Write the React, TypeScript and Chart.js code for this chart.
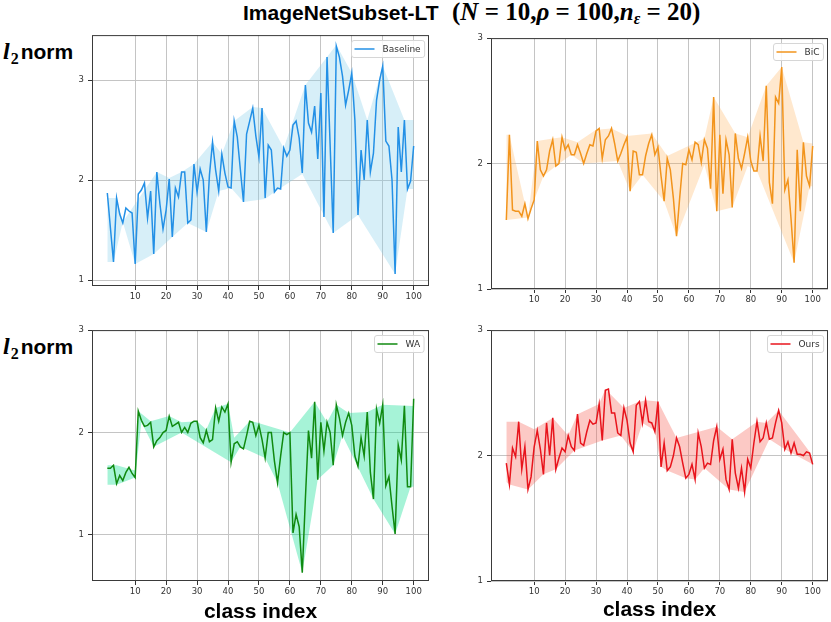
import { useEffect, useRef } from "react";
import Chart from "chart.js/auto";

Chart.defaults.font.family = '"DejaVu Sans", sans-serif';

const classIndex = Array.from({ length: 100 }, (_, i) => i + 1);
const xTicks = [10, 20, 30, 40, 50, 60, 70, 80, 90, 100];
const yTicks = [1, 2, 3];

const baseline = [
  1.87, 1.52, 1.18, 1.82, 1.66, 1.57, 1.72, 1.69, 1.67, 1.16,
  1.86, 1.9, 1.97, 1.62, 1.89, 1.26, 2.08, 1.76, 1.51, 1.7,
  2.01, 1.43, 1.92, 1.83, 2.08, 2.08, 1.57, 1.6, 2.16, 1.88,
  2.11, 2.0, 1.48, 2.05, 2.38, 2.1, 1.89, 2.26, 2.07, 1.93,
  1.92, 2.59, 2.43, 2.1, 1.78, 2.46, 2.59, 2.72, 2.44, 2.23,
  2.72, 1.82, 2.35, 2.3, 1.88, 1.92, 1.91, 2.32, 2.24, 2.3,
  2.55, 2.59, 2.42, 2.07, 2.95, 2.57, 2.48, 2.74, 2.21, 2.87,
  1.63, 3.23, 2.35, 1.47, 3.34, 3.23, 3.04, 2.75, 2.9, 3.07,
  2.6, 1.65, 2.3, 2.0, 2.6, 2.08, 2.27, 2.8, 3.0, 3.14,
  2.39, 2.34, 2.0, 1.06, 2.53, 2.08, 2.6, 1.91, 1.99, 2.34,
];
const baselineUpper: [number, number][] = [
  [1, 1.82], [4, 1.82], [6, 1.58], [17, 2.08], [21, 2.02], [25, 2.08],
  [29, 2.16], [35, 2.38], [38, 2.26], [42, 2.59], [48, 2.73], [51, 2.72],
  [58, 2.32], [65, 2.95], [75, 3.35], [80, 3.07], [85, 2.6], [90, 3.14],
  [97, 2.6], [100, 2.6],
];
const baselineLower: [number, number][] = [
  [1, 1.18], [3, 1.18], [6, 1.58], [10, 1.16], [16, 1.26], [22, 1.43],
  [27, 1.57], [33, 1.48], [37, 1.89], [41, 1.92], [45, 1.78], [52, 1.81],
  [55, 1.88], [64, 2.06], [74, 1.47], [82, 1.65], [94, 1.06], [98, 1.91],
  [100, 1.91],
];

const bic = [
  1.55, 2.23, 1.63, 1.62, 1.62, 1.58, 1.68, 1.56, 1.64, 1.71,
  2.18, 1.95, 1.9, 1.95, 2.1, 2.19, 1.98, 2.0, 2.21, 2.11,
  2.15, 2.07, 2.07, 2.15, 2.08, 2.0, 2.08, 2.15, 2.14, 2.26,
  2.28, 2.04, 2.19, 2.22, 2.28, 2.16, 2.02, 2.08, 2.15, 2.21,
  1.78, 2.1, 2.09, 1.91, 1.91, 2.06, 2.16, 2.23, 2.07, 2.13,
  1.9, 1.7, 2.04, 1.95, 1.72, 1.42, 1.72, 2.0, 1.99, 2.11,
  2.03, 2.17, 2.15, 2.01, 2.19, 2.12, 1.8, 2.53, 1.62, 2.23,
  1.76, 2.19, 2.07, 1.65, 2.24, 2.04, 1.96, 2.08, 2.21, 2.02,
  1.94, 1.94, 2.22, 2.02, 2.62, 1.85, 1.68, 2.53, 2.48, 2.77,
  1.79, 1.87, 1.56, 1.21, 2.11, 1.62, 2.17, 1.9, 1.82, 2.14,
];
const bicUpper: [number, number][] = [
  [1, 2.23], [2, 2.23], [8, 1.57], [11, 2.18], [16, 2.2], [19, 2.21],
  [24, 2.17], [30, 2.27], [35, 2.28], [40, 2.22], [48, 2.24], [53, 2.06],
  [65, 2.2], [68, 2.53], [75, 2.24], [79, 2.21], [85, 2.62], [90, 2.77],
  [97, 2.17], [100, 2.16],
];
const bicLower: [number, number][] = [
  [1, 1.55], [8, 1.57], [10, 1.71], [13, 1.9], [17, 1.98], [22, 2.07],
  [26, 2.0], [37, 2.02], [41, 1.78], [45, 1.91], [52, 1.7], [56, 1.42],
  [65, 1.99], [69, 1.62], [74, 1.65], [79, 1.98], [82, 1.94], [94, 1.21],
  [99, 1.82], [100, 1.82],
];

const wa = [
  1.65, 1.65, 1.68, 1.5, 1.58, 1.53, 1.61, 1.66, 1.6, 1.56,
  2.21, 2.12, 2.06, 2.07, 2.1, 1.86, 1.92, 1.95, 2.0, 2.02,
  2.16, 2.06, 2.08, 2.1, 2.0, 2.05, 2.0, 2.09, 2.11, 2.11,
  1.95, 1.9, 2.02, 1.91, 1.93, 2.24, 2.11, 2.25, 2.2, 2.28,
  1.71, 1.89, 1.91, 1.86, 1.84, 1.97, 2.11, 2.1, 1.97, 2.07,
  1.93, 1.75, 2.0, 2.0, 1.72, 1.51, 1.77, 2.0, 1.98, 2.0,
  1.02, 1.2, 1.08, 0.63, 1.35, 2.02, 1.75, 2.3, 1.54, 2.1,
  1.82, 2.1, 2.0, 1.68, 2.27, 2.14, 1.97, 2.1, 2.19, 2.07,
  1.77, 1.67, 1.95, 1.77, 2.2, 1.61, 1.35, 2.23, 2.09, 2.27,
  1.48, 1.57, 1.28, 1.01, 1.88, 1.73, 2.26, 1.47, 1.47, 2.33,
];
const waUpper: [number, number][] = [
  [1, 1.68], [4, 1.68], [10, 1.63], [11, 2.21], [15, 2.11], [21, 2.16],
  [25, 2.1], [30, 2.11], [33, 2.03], [36, 2.24], [40, 2.28], [42, 1.95],
  [47, 2.11], [49, 2.1], [60, 2.0], [68, 2.3], [72, 2.1], [75, 2.27],
  [79, 2.19], [85, 2.2], [90, 2.27], [100, 2.26],
];
const waLower: [number, number][] = [
  [1, 1.49], [4, 1.49], [10, 1.56], [12, 2.1], [16, 1.86], [25, 2.0],
  [41, 1.71], [44, 1.86], [52, 1.75], [56, 1.51], [64, 0.63], [69, 1.54],
  [74, 1.68], [77, 1.97], [87, 1.35], [94, 1.01], [99, 1.47], [100, 1.47],
];

const ours = [
  1.94, 1.77, 2.06, 1.99, 2.27, 1.89, 2.07, 1.73, 1.83, 2.07,
  2.2, 2.05, 1.85, 2.26, 2.0, 2.3, 1.89, 1.98, 2.06, 2.03,
  2.16, 2.07, 2.04, 2.33, 2.1, 2.08, 2.19, 2.28, 2.25, 2.26,
  2.41, 2.12, 2.52, 2.53, 2.34, 2.34, 2.18, 2.16, 2.38, 2.28,
  2.1, 2.03, 2.4, 2.43, 2.26, 2.44, 2.27, 2.26, 2.19, 2.43,
  1.91, 2.1, 1.88, 1.91, 2.0, 2.14, 2.07, 1.94, 1.82, 1.85,
  1.93, 1.81, 2.18, 2.07, 1.9, 1.94, 1.93, 2.12, 2.23, 1.97,
  2.05, 1.81, 1.73, 2.13, 1.86, 1.74, 1.9, 1.71, 1.97, 1.9,
  2.1, 2.27, 2.11, 2.14, 2.26, 2.13, 2.14, 2.26, 2.36, 2.26,
  2.05, 2.11, 2.02, 2.1, 2.01, 2.01, 2.0, 2.03, 2.02, 1.93,
];
const oursUpper: [number, number][] = [
  [1, 2.27], [5, 2.27], [10, 2.21], [16, 2.3], [21, 2.16], [24, 2.33],
  [31, 2.41], [33, 2.53], [39, 2.38], [43, 2.42], [46, 2.44], [50, 2.43],
  [56, 2.14], [69, 2.23], [74, 2.13], [82, 2.27], [85, 2.26], [89, 2.36],
  [99, 2.03], [100, 1.93],
];
const oursLower: [number, number][] = [
  [1, 1.79], [2, 1.77], [8, 1.73], [13, 1.85], [17, 1.89], [23, 2.04],
  [32, 2.12], [38, 2.16], [42, 2.03], [45, 2.26], [49, 2.2], [51, 1.91],
  [53, 1.88], [59, 1.82], [62, 1.81], [65, 1.9], [73, 1.73], [78, 1.71],
  [86, 2.13], [91, 2.05], [100, 1.93],
];

// box round the plot area, like matplotlib spines
const frame = {
  id: "frame",
  afterDatasetsDraw(chart: Chart) {
    const { ctx, chartArea: a } = chart;
    ctx.save();
    ctx.strokeStyle = "#3a3a3a";
    ctx.lineWidth = 1;
    ctx.strokeRect(a.left + 0.5, a.top + 0.5, a.right - a.left - 1, a.bottom - a.top - 1);
    ctx.restore();
  },
};

// legend inside the upper right corner
const cornerLegend = {
  id: "cornerLegend",
  afterDatasetsDraw(chart: Chart) {
    const { ctx, chartArea: a } = chart;
    const ds: any = chart.data.datasets[0];
    ctx.save();
    ctx.font = '9px "DejaVu Sans"';
    const tw = ctx.measureText(ds.label).width;
    const w = tw + 35;
    const h = 17;
    const x = Math.round(a.right - 5 - w) + 0.5;
    const y = Math.round(a.top + 5) + 0.5;
    ctx.beginPath();
    ctx.roundRect(x, y, w, h, 2.5);
    ctx.fillStyle = "rgba(255,255,255,0.85)";
    ctx.fill();
    ctx.strokeStyle = "#d6d6d6";
    ctx.lineWidth = 1;
    ctx.stroke();
    ctx.beginPath();
    ctx.moveTo(x + 3, y + h / 2);
    ctx.lineTo(x + 23, y + h / 2);
    ctx.strokeStyle = ds.borderColor;
    ctx.lineWidth = 1.5;
    ctx.stroke();
    ctx.fillStyle = "#333";
    ctx.textBaseline = "middle";
    ctx.fillText(ds.label, x + 31, y + h / 2 + 0.5);
    ctx.restore();
  },
};

type PanelProps = {
  left: number;
  top: number;
  label: string;
  color: string;
  band: string;
  values: number[];
  upper: [number, number][];
  lower: [number, number][];
  yMin: number;
  yMax: number;
};

// canvas = 40px y axis + 337px plot + 2px, 9px above the plot (tick label room) + 251px plot + 20px x axis
const W = 379;
const H = 280;
const TOP_ROOM = 9;

function Panel({ left, top, label, color, band, values, upper, lower, yMin, yMax }: PanelProps) {
  const ref = useRef<HTMLCanvasElement>(null);

  useEffect(() => {
    if (!ref.current) return;

    const chart = new Chart(ref.current, {
      type: "line",
      data: {
        datasets: [
          {
            label,
            data: values.map((v, i) => ({ x: classIndex[i], y: v })),
            borderColor: color,
            borderWidth: 1.5,
            pointRadius: 0,
            tension: 0,
            fill: false,
          },
          {
            label: "upper",
            data: upper.map(([x, y]) => ({ x, y })),
            borderColor: "transparent",
            borderWidth: 0,
            backgroundColor: band,
            pointRadius: 0,
            fill: "+1",
          },
          {
            label: "lower",
            data: lower.map(([x, y]) => ({ x, y })),
            borderColor: "transparent",
            borderWidth: 0,
            pointRadius: 0,
            fill: false,
          },
        ],
      } as any,
      options: {
        responsive: false,
        animation: false,
        events: [],
        layout: { padding: { top: TOP_ROOM, right: 2, left: 0, bottom: 0 } },
        plugins: {
          legend: { display: false },
          tooltip: { enabled: false },
        },
        scales: {
          x: {
            type: "linear",
            min: -3.95,
            max: 104.95,
            afterBuildTicks: (s: any) => {
              s.ticks = xTicks.map((value) => ({ value }));
            },
            afterFit: (s: any) => {
              s.height = 20;
            },
            ticks: { color: "#333", font: { size: 8.5 }, padding: 2, autoSkip: false, maxRotation: 0 },
            grid: { color: "#c4c4c4", lineWidth: 1, tickLength: 4, tickColor: "#333" },
            border: { display: false },
          },
          y: {
            min: yMin,
            max: yMax,
            afterBuildTicks: (s: any) => {
              s.ticks = yTicks.map((value) => ({ value }));
            },
            afterFit: (s: any) => {
              s.width = 40;
            },
            ticks: { color: "#333", font: { size: 8.5 }, padding: 4 },
            grid: { color: "#c4c4c4", lineWidth: 1, tickLength: 4, tickColor: "#333" },
            border: { display: false },
          },
        },
      },
      plugins: [frame, cornerLegend],
    });

    return () => chart.destroy();
  }, [label, color, band, values, upper, lower, yMin, yMax]);

  return (
    <canvas
      ref={ref}
      width={W}
      height={H}
      style={{ position: "absolute", left: left - 40, top: top - TOP_ROOM, width: W, height: H }}
    />
  );
}

const sans = '"Liberation Sans", Arial, sans-serif';
const serif = '"Liberation Serif", "Times New Roman", serif';

function NormLabel({ top }: { top: number }) {
  return (
    <div
      style={{
        position: "absolute",
        left: 3,
        top,
        fontFamily: sans,
        fontWeight: "bold",
        fontSize: 21,
        lineHeight: "20px",
        whiteSpace: "nowrap",
        color: "#000",
      }}
    >
      <span style={{ fontFamily: serif, fontStyle: "italic", fontSize: 24, lineHeight: "20px" }}>l</span>
      <span style={{ fontFamily: serif, fontSize: 16, lineHeight: "10px", verticalAlign: "-5px", marginLeft: 1, marginRight: 2 }}>2</span>
      <span>norm</span>
    </div>
  );
}

function XLabel({ left, top }: { left: number; top: number }) {
  return (
    <div
      style={{
        position: "absolute",
        left,
        top,
        width: 337,
        textAlign: "center",
        fontFamily: sans,
        fontWeight: "bold",
        fontSize: 21,
        lineHeight: "21px",
        whiteSpace: "nowrap",
        color: "#000",
      }}
    >
      class index
    </div>
  );
}

export default function App() {
  return (
    <div
      style={{
        position: "absolute",
        left: 0,
        top: 0,
        width: 831,
        height: 622,
        overflow: "hidden",
        background: "#fff",
      }}
    >
      <div
        style={{
          position: "absolute",
          left: 243,
          top: 2,
          fontFamily: sans,
          fontWeight: "bold",
          fontSize: 21,
          lineHeight: "21px",
          whiteSpace: "nowrap",
        }}
      >
        ImageNetSubset-LT
      </div>
      <div
        style={{
          position: "absolute",
          left: 452,
          top: -1,
          fontFamily: serif,
          fontWeight: "bold",
          fontSize: 25,
          lineHeight: "25px",
          whiteSpace: "nowrap",
        }}
      >
        (<i>N</i> = 10,<i>ρ</i> = 100,<i>n</i>
        <i style={{ fontSize: 16, lineHeight: "10px", verticalAlign: "-4px" }}>ε</i> = 20)
      </div>

      <NormLabel top={41} />
      <NormLabel top={336} />

      <Panel
        left={92}
        top={35}
        label="Baseline"
        color="#2390e6"
        band="rgba(135,206,235,0.33)"
        values={baseline}
        upper={baselineUpper}
        lower={baselineLower}
        yMin={0.94}
        yMax={3.45}
      />
      <Panel
        left={491}
        top={38}
        label="BiC"
        color="#f2941c"
        band="rgba(255,165,60,0.25)"
        values={bic}
        upper={bicUpper}
        lower={bicLower}
        yMin={1}
        yMax={3}
      />
      <Panel
        left={92}
        top={330}
        label="WA"
        color="#108a10"
        band="rgba(0,220,140,0.35)"
        values={wa}
        upper={waUpper}
        lower={waLower}
        yMin={0.55}
        yMax={3}
      />
      <Panel
        left={491}
        top={330}
        label="Ours"
        color="#e8141c"
        band="rgba(245,100,90,0.35)"
        values={ours}
        upper={oursUpper}
        lower={oursLower}
        yMin={1}
        yMax={3}
      />

      <XLabel left={92} top={600} />
      <XLabel left={491} top={598} />
    </div>
  );
}
